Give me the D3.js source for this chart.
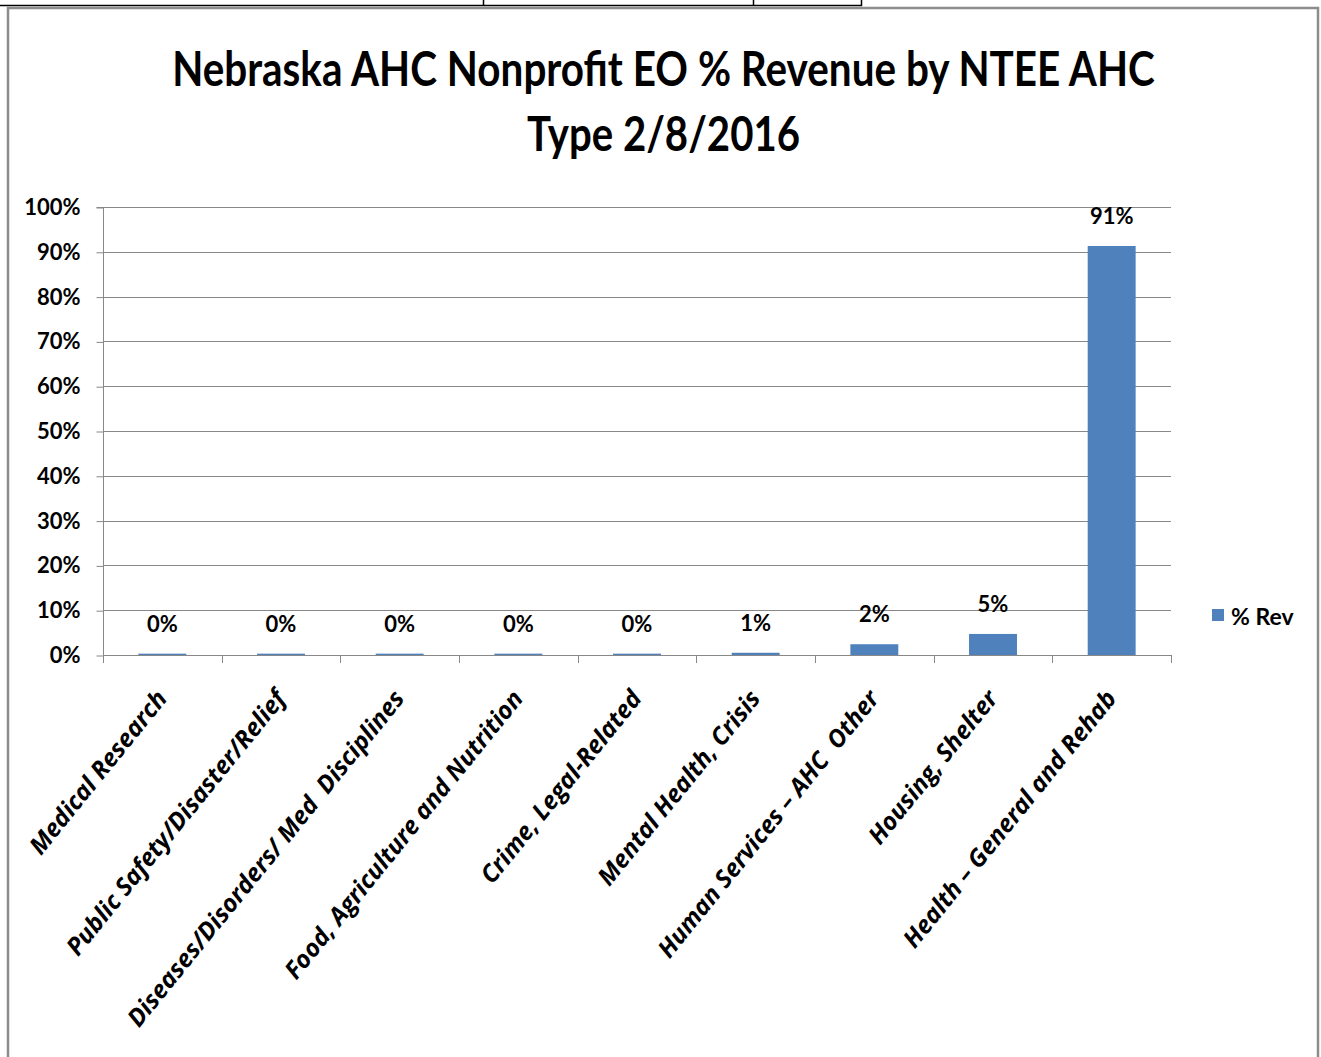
<!DOCTYPE html>
<html>
<head>
<meta charset="utf-8">
<script src="https://cdn.jsdelivr.net/npm/d3@7"></script>
<style>
  html, body { margin: 0; padding: 0; background: #fff; }
  svg { display: block; }
  text { font-family: Lato, "Liberation Sans", sans-serif; font-weight: bold; fill: #000; }
  text.cat { font-family: "Open Sans", sans-serif; font-style: italic; white-space: pre; }
</style>
</head>
<body>
<svg id="chart" width="1321" height="1057"></svg>
<script>
const categories = [
  "Medical Research",
  "Public Safety/Disaster/Relief",
  "Diseases/Disorders/ Med  Disciplines",
  "Food, Agriculture and Nutrition",
  "Crime, Legal-Related",
  "Mental Health, Crisis",
  "Human Services \u2013 AHC  Other",
  "Housing, Shelter",
  "Health \u2013 General and Rehab"
];
const values = [0.3, 0.3, 0.3, 0.3, 0.3, 0.5, 2.4, 4.7, 91.3];
const valueLabels = ["0%", "0%", "0%", "0%", "0%", "1%", "2%", "5%", "91%"];
const yTicks = [0, 10, 20, 30, 40, 50, 60, 70, 80, 90, 100];
const seriesName = "% Rev";
const titleLines = ["Nebraska AHC Nonprofit EO % Revenue by NTEE AHC", "Type 2/8/2016"];

const svg = d3.select("#chart");
const barColor = "#4F81BD";
const gridColor = "#888888";

// page-like borders
svg.append("line").attr("x1", 0).attr("x2", 862).attr("y1", 5.5).attr("y2", 5.5).attr("stroke", "#000").attr("stroke-width", 1.5);
[483, 753, 861].forEach(xx => {
  svg.append("line").attr("x1", xx + 0.5).attr("x2", xx + 0.5).attr("y1", 0).attr("y2", 6).attr("stroke", "#000").attr("stroke-width", 1.5);
});
svg.append("rect").attr("x", 8).attr("y", 8).attr("width", 1310).attr("height", 1060)
  .attr("fill", "none").attr("stroke", "#8c8c8c").attr("stroke-width", 2.5);

const x = d3.scaleBand().domain(categories).range([103, 1171]).paddingInner(0.596).paddingOuter(0.298);
const y = d3.scaleLinear().domain([0, 100]).range([655, 207]);

// title (horizontally condensed to the reference width)
const titleWidths = [983, 273];
const titleY = [86, 151];
titleLines.forEach((t, i) => {
  const g = svg.append("g");
  const tx = g.append("text").attr("x", 0).attr("y", 0).attr("text-anchor", "middle")
    .attr("font-size", 48).text(t);
  const natural = tx.node().getComputedTextLength();
  const sx = titleWidths[i] / natural;
  g.attr("transform", `translate(663.5,${titleY[i]}) scale(${sx},1)`);
});

// gridlines
svg.append("g").selectAll("line").data(yTicks.filter(d => d > 0)).join("line")
  .attr("x1", 103).attr("x2", 1171)
  .attr("y1", d => Math.round(y(d)) + 0.5).attr("y2", d => Math.round(y(d)) + 0.5)
  .attr("stroke", gridColor).attr("stroke-width", 1);

// y axis
const yAxis = d3.axisLeft(y).tickValues(yTicks).tickFormat(d => d + "%").tickSize(7).tickPadding(16);
const gy = svg.append("g").attr("transform", "translate(103.5,0.5)").call(yAxis);
gy.select(".domain").attr("stroke", gridColor).attr("d", `M-7,${y(100)}H0V${y(0)}`);
gy.selectAll(".tick line").attr("stroke", gridColor);
gy.selectAll(".tick text").attr("font-size", 22).attr("fill", "#000");

// bars
svg.append("g").selectAll("rect").data(values).join("rect")
  .attr("x", (d, i) => x(categories[i]))
  .attr("y", d => y(d))
  .attr("width", x.bandwidth())
  .attr("height", d => y(0) - y(d))
  .attr("fill", barColor);

// x axis
const step = x.step();
const gx = svg.append("g");
gx.append("line").attr("x1", 103).attr("x2", 1171).attr("y1", 655.5).attr("y2", 655.5).attr("stroke", gridColor);
gx.selectAll("line.tk").data(d3.range(categories.length + 1)).join("line").attr("class", "tk")
  .attr("x1", i => Math.round(103 + i * step) + 0.5).attr("x2", i => Math.round(103 + i * step) + 0.5)
  .attr("y1", 655).attr("y2", 663).attr("stroke", gridColor);

// data labels
svg.append("g").selectAll("text").data(values).join("text")
  .attr("x", (d, i) => x(categories[i]) + x.bandwidth() / 2)
  .attr("y", d => y(d) - 22)
  .attr("text-anchor", "middle")
  .attr("font-size", 22)
  .text((d, i) => valueLabels[i]);

// category labels
svg.append("g").selectAll("text").data(categories).join("text")
  .attr("class", "cat")
  .attr("transform", d => `translate(${x(d) + x.bandwidth() / 2 + 6},${699}) rotate(-51)`)
  .attr("text-anchor", "end")
  .attr("font-size", 24.5)
  .text(d => d);

// legend
const lg = svg.append("g");
lg.append("rect").attr("x", 1212).attr("y", 609).attr("width", 12).attr("height", 12).attr("fill", barColor);
lg.append("text").attr("x", 1231).attr("y", 625).attr("font-size", 23).text(seriesName);
</script>
</body>
</html>
